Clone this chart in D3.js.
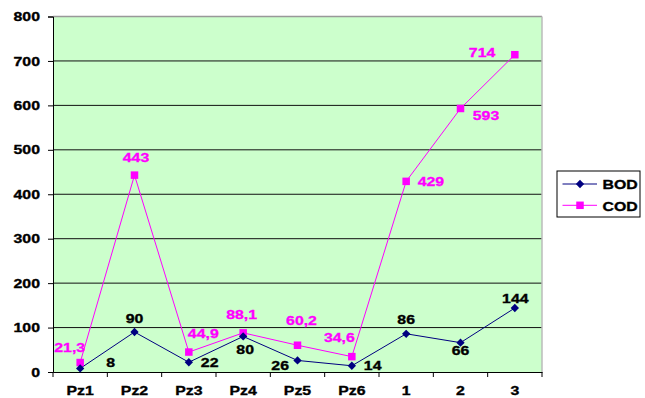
<!DOCTYPE html>
<html><head><meta charset="utf-8">
<script src="https://cdn.jsdelivr.net/npm/d3@7"></script>
<style>body{margin:0;background:#fff}svg{display:block;font-family:"Liberation Sans",Arial,sans-serif;font-weight:bold}</style>
</head><body><svg id="c" width="645" height="398"></svg>
<script>
const categories = ["Pz1","Pz2","Pz3","Pz4","Pz5","Pz6","1","2","3"];
const bod = [8,90,22,80,26,14,86,66,144];
const cod = [21.3,443,44.9,88.1,60.2,34.6,429,593,714];
const bodLabels = ["8","90","22","80","26","14","86","66","144"];
const codLabels = ["21,3","443","44,9","88,1","60,2","34,6","429","593","714"];
const yTicks = [0,100,200,300,400,500,600,700,800];
// label placement (style): [dx, dy, anchor]
const bodPlace = [[26,-1,"start"],[0,-9.5,"middle"],[12,4.5,"start"],[2,17.5,"middle"],[-8.5,9.5,"end"],[12,4,"start"],[0,-9.5,"middle"],[0,12.3,"middle"],[0.5,-5.5,"middle"]];
const codPlace = [[5,-11,"end"],[1.5,-12.7,"middle"],[-1,-14,"start"],[-1.5,-14,"middle"],[4,-20,"middle"],[3,-15,"end"],[11.5,4.3,"start"],[12.3,11.7,"start"],[-19.5,2.6,"end"]];

const SX = 1.22; // horizontal text stretch
const svg = d3.select("#c");
const L=53, R=542, T=16.5, B=372;
const x = d3.scaleBand().domain(categories).range([L,R]);
const y = d3.scaleLinear().domain([0,800]).range([B,T]);
const cx = d => x(d)+x.bandwidth()/2;

function stretch(sel){
  sel.each(function(){
    const t=d3.select(this);
    const tx=+t.attr("x")||0, ty=+t.attr("y")||0;
    const col=t.attr("fill");
    t.attr("x",0).attr("y",0).attr("transform",`translate(${tx},${ty}) scale(${SX},1)`)
     .attr("stroke",col).attr("stroke-width",0.35);
  });
}

svg.append("rect").attr("x",L).attr("y",T).attr("width",R-L).attr("height",B-T).attr("fill","#CCFFCC");
svg.append("g").selectAll("line").data(yTicks.filter(v=>v>0&&v<800)).join("line")
  .attr("x1",L).attr("x2",R).attr("y1",d=>y(d)).attr("y2",d=>y(d)).attr("stroke","#111").attr("stroke-width",1);
svg.append("line").attr("x1",L).attr("x2",R).attr("y1",y(800)).attr("y2",y(800)).attr("stroke","#999").attr("stroke-width",1.5);
svg.append("line").attr("x1",R).attr("x2",R).attr("y1",T).attr("y2",B).attr("stroke","#bbb").attr("stroke-width",1.5);

const yAxis = d3.axisLeft(y).tickValues(yTicks).tickSize(5).tickPadding(8);
const gy = svg.append("g").attr("transform",`translate(${L},0)`).call(yAxis);
gy.select(".domain").attr("stroke","#000");
gy.selectAll("text").attr("font-size",13).attr("font-weight","bold").attr("font-family","Liberation Sans, Arial").attr("fill","#000").call(stretch);

const xAxis = d3.axisBottom(x).tickSize(0).tickPadding(14);
const gx = svg.append("g").attr("transform",`translate(0,${B})`).call(xAxis);
gx.select(".domain").attr("stroke","#000");
gx.selectAll("text").attr("font-size",13).attr("font-weight","bold").attr("font-family","Liberation Sans, Arial").attr("fill","#000").call(stretch);
const bounds = categories.map(c=>x(c)).concat([R]);
svg.append("g").selectAll("line").data(bounds).join("line")
  .attr("x1",d=>d).attr("x2",d=>d).attr("y1",B).attr("y2",B+5).attr("stroke","#000");

const line = d3.line().x((d,i)=>cx(categories[i])).y(d=>y(d));
svg.append("path").datum(cod).attr("d",line).attr("fill","none").attr("stroke","#FF00FF").attr("stroke-width",1);
svg.append("path").datum(bod).attr("d",line).attr("fill","none").attr("stroke","#000080").attr("stroke-width",1);

svg.append("g").selectAll("rect").data(cod).join("rect")
  .attr("x",(d,i)=>cx(categories[i])-3.75).attr("y",d=>y(d)-3.75).attr("width",7.5).attr("height",7.5).attr("fill","#FF00FF");
const diamond = d3.symbol().type(d3.symbolDiamond2).size(44);
svg.append("g").selectAll("path").data(bod).join("path")
  .attr("d",diamond).attr("transform",(d,i)=>`translate(${cx(categories[i])},${y(d)})`).attr("fill","#000080");

function labels(vals,txt,place,color){
  svg.append("g").selectAll("text").data(vals).join("text")
    .attr("x",(d,i)=>cx(categories[i])+place[i][0])
    .attr("y",(d,i)=>y(d)+place[i][1])
    .attr("text-anchor",(d,i)=>place[i][2])
    .attr("font-size",13).attr("fill",color).text((d,i)=>txt[i]).call(stretch);
}
labels(bod,bodLabels,bodPlace,"#000");
labels(cod,codLabels,codPlace,"#FF00FF");

// legend
const lg = svg.append("g");
lg.append("rect").attr("x",557).attr("y",171).attr("width",83).attr("height",46).attr("fill","#fff").attr("stroke","#000");
const items=[{n:"BOD",c:"#000080",s:"d"},{n:"COD",c:"#FF00FF",s:"s"}];
items.forEach((it,i)=>{
  const yy=184+i*21.3;
  lg.append("line").attr("x1",562.5).attr("x2",597).attr("y1",yy).attr("y2",yy).attr("stroke",it.c);
  if(it.s==="d") lg.append("path").attr("d",diamond).attr("transform",`translate(580,${yy})`).attr("fill",it.c);
  else lg.append("rect").attr("x",576.25).attr("y",yy-3.75).attr("width",7.5).attr("height",7.5).attr("fill",it.c);
  lg.append("text").attr("x",602.5).attr("y",yy+5.2).attr("font-size",13).attr("fill","#000").text(it.n).call(stretch);
});
</script></body></html>
